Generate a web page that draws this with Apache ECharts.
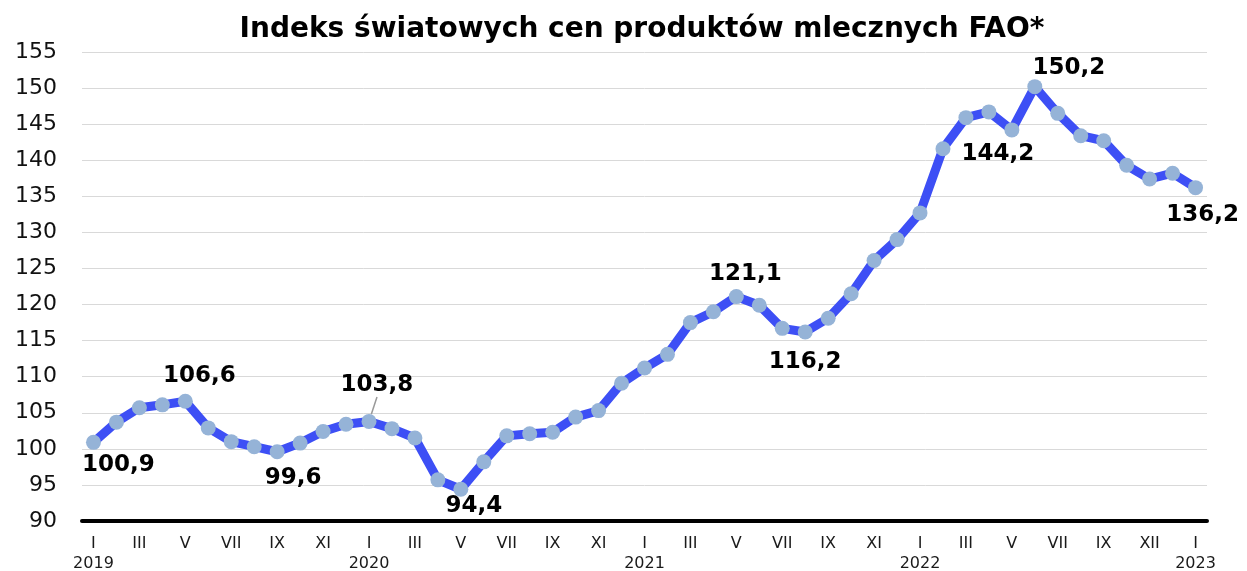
<!DOCTYPE html>
<html>
<head>
<meta charset="utf-8">
<script src="https://cdn.jsdelivr.net/npm/echarts@6/dist/echarts.min.js"></script>
<style>
  html, body { margin: 0; padding: 0; background: #fff; }
  #chart { width: 1247px; height: 571px; }
</style>
</head>
<body>
<div id="chart"></div>
<script>
// miesiące I 2019 - I 2023
const monthLabels = [
    'I', '', 'III', '', 'V', '', 'VII', '', 'IX', '', 'XI', '',
    'I', '', 'III', '', 'V', '', 'VII', '', 'IX', '', 'XI', '',
    'I', '', 'III', '', 'V', '', 'VII', '', 'IX', '', 'XI', '',
    'I', '', 'III', '', 'V', '', 'VII', '', 'IX', '', 'XII', '',
    'I'
];
const yearLabels = ['2019', '', '', '', '', '', '', '', '', '', '', '',
    '2020', '', '', '', '', '', '', '', '', '', '', '',
    '2021', '', '', '', '', '', '', '', '', '', '', '',
    '2022', '', '', '', '', '', '', '', '', '', '', '',
    '2023'];
const indexValues = [
    100.9, 103.7, 105.7, 106.1, 106.6, 102.9, 101.0, 100.3, 99.6, 100.8, 102.4, 103.4,
    103.8, 102.8, 101.5, 95.7, 94.4, 98.2, 101.8, 102.1, 102.3, 104.4, 105.3, 109.1,
    111.2, 113.1, 117.5, 119.0, 121.1, 119.9, 116.7, 116.2, 118.1, 121.5, 126.1, 129.0,
    132.7, 141.6, 145.9, 146.7, 144.2, 150.2, 146.5, 143.4, 142.7, 139.3, 137.4, 138.2,
    136.2
];
const yTicks = [90, 95, 100, 105, 110, 115, 120, 125, 130, 135, 140, 145, 150, 155];

// które punkty mają etykietę i gdzie ją przesunąć
const labelOffsets = {
    0: [25, 23], 4: [14, -25], 8: [16, 26], 12: [8, -36], 16: [13, 17],
    28: [9, -23], 31: [0, 30], 40: [-14, 24], 41: [34, -19], 48: [7, 27]
};
const fmt = v => v.toFixed(1).replace('.', ',');

const chart = echarts.init(document.getElementById('chart'));

const seriesData = indexValues.map((v, i) => {
    const off = labelOffsets[i];
    if (!off) return v;
    return {
        value: v,
        label: { show: true, position: 'inside', offset: off },
        labelLine: { show: i === 12 }
    };
});

chart.setOption({
    animation: false,
    title: {
        text: 'Indeks światowych cen produktów mlecznych FAO*',
        left: 637,
        top: 11,
        textAlign: 'center',
        textStyle: {
            fontFamily: 'DejaVu Sans',
            fontWeight: 'bold',
            fontSize: 28,
            color: '#000'
        }
    },
    grid: { left: 82, right: 40, top: 52, bottom: 50, containLabel: false, outerBoundsMode: 'none' },
    xAxis: {
        type: 'category',
        boundaryGap: true,
        data: monthLabels.map((m, i) => i),
        axisLine: { show: true, onZero: false, lineStyle: { color: '#000', width: 4 } },
        axisTick: { show: false },
        axisLabel: {
            interval: 0,
            margin: 13,
            fontFamily: 'DejaVu Sans',
            fontSize: 16,
            lineHeight: 20,
            color: '#1a1a1a',
            formatter: v => {
                const idx = Number(v);
                if (!monthLabels[idx]) return '';
                return yearLabels[idx] ? monthLabels[idx] + '\n' + yearLabels[idx] : monthLabels[idx];
            }
        }
    },
    yAxis: {
        type: 'value',
        min: yTicks[0],
        max: yTicks[yTicks.length - 1],
        interval: 5,
        axisLine: { show: false },
        axisTick: { show: false },
        axisLabel: {
            margin: 25,
            fontFamily: 'DejaVu Sans',
            fontSize: 22,
            color: '#111'
        },
        splitLine: { lineStyle: { color: '#d9d9d9', width: 1 } }
    },
    series: [
        {
            type: 'line',
            data: seriesData,
            symbol: 'circle',
            symbolSize: 15,
            showAllSymbol: true,
            lineStyle: { color: '#3d4ff5', width: 9 },
            itemStyle: { color: '#95b3d7' },
            label: {
                show: false,
                fontFamily: 'DejaVu Sans',
                fontWeight: 'bold',
                fontSize: 23,
                color: '#000',
                formatter: p => fmt(p.value)
            },
            labelLine: { lineStyle: { color: '#999', width: 1.5 } },
            z: 3
        }
    ]
});
</script>
</body>
</html>
